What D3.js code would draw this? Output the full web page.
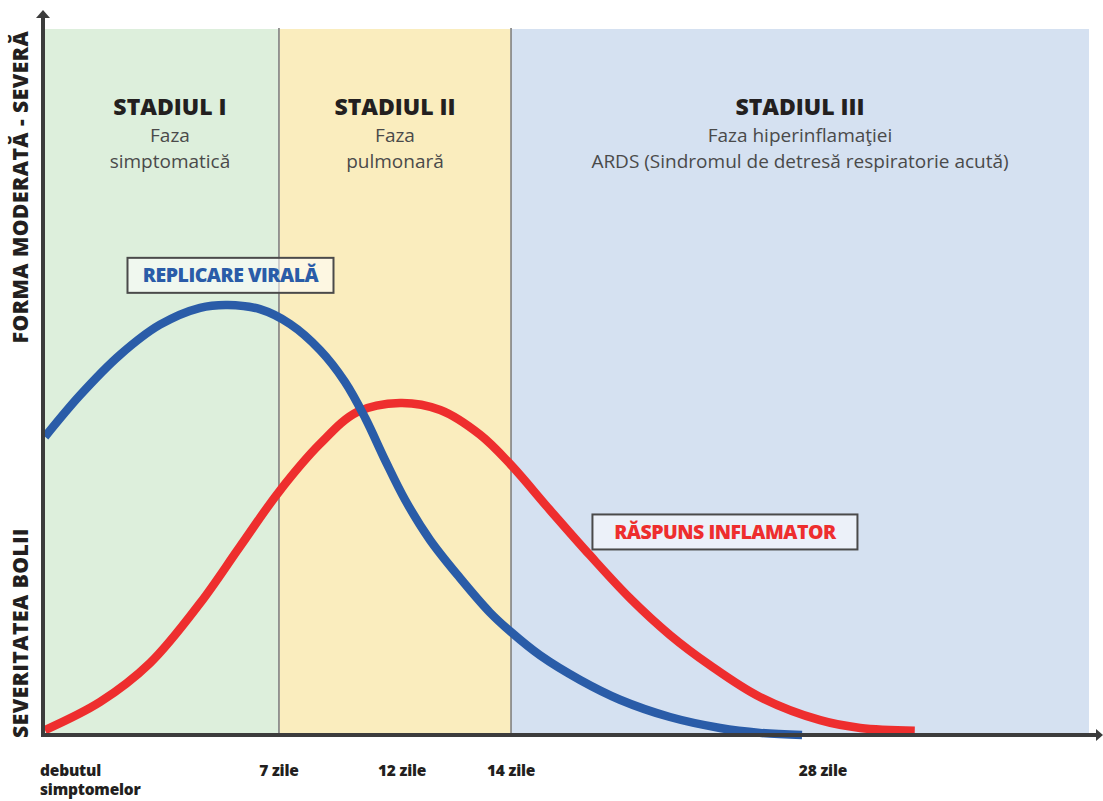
<!DOCTYPE html>
<html>
<head>
<meta charset="utf-8">
<script src="https://cdn.jsdelivr.net/npm/d3@7"></script>
<style>
  html, body { margin: 0; padding: 0; background: #fff; }
  svg { display: block; font-family: "Open Sans", "DejaVu Sans", sans-serif; }
</style>
</head>
<body>
<svg id="chart" width="1103" height="801"></svg>
<script>
// x ticks (days since onset) and their labels
const tickDays = [0, 7, 12, 14, 28];
const tickLabels = [["debutul", "simptomelor"], ["7 zile"], ["12 zile"], ["14 zile"], ["28 zile"]];

// stages
const stageStart = [0, 7, 14];
const stageEnd = [7, 14, 32];
const stageNames = ["STADIUL I", "STADIUL II", "STADIUL III"];
const stageSub = [
    ["Faza", "simptomatică"],
    ["Faza", "pulmonară"],
    ["Faza hiperinflamaţiei", "ARDS (Sindromul de detresă respiratorie acută)"]
];
const stageColors = ["#ddefdc", "#faedbe", "#d5e1f1"];

// viral replication curve (day, severity 0-100)
const viralDays = [0, 1.05, 2.24, 3.44, 4.64, 5.47, 6.43, 7.45, 8.67, 9.68, 10.5, 11.31, 12.06, 12.51, 13.06, 13.61, 14, 15.3, 17.1, 18.89, 21.13, 23.38, 25.17, 27.06];
const viralSev = [42.3, 48.2, 53.9, 58.2, 60.6, 61.0, 60.4, 58.3, 54.6, 50.1, 45.0, 39.0, 33.3, 27.7, 22.3, 17.4, 14.6, 11.3, 7.8, 5.0, 2.55, 1.0, 0.3, 0.0];

// inflammatory response curve
const inflDays = [0, 1.65, 3.14, 4.64, 5.83, 7, 8.67, 10.17, 11.92, 12.7, 13.43, 14, 15.75, 17.54, 19.34, 21.13, 22.93, 25.17, 27.87, 28.56, 29.38];
const inflSev = [0.7, 4.7, 10.2, 18.7, 26.7, 34.5, 41.3, 45.8, 47.1, 46.1, 42.6, 38.3, 31.9, 25.5, 19.4, 14.2, 9.9, 5.4, 2.1, 1.0, 0.6];

const svg = d3.select("#chart");
const plotLeft = 45, plotRight = 1089, plotTop = 30, plotBottom = 735;
const W = plotRight - plotLeft;

// the picture's time axis is not uniform, so a piecewise scale
const x = d3.scaleLinear()
    .domain([0, 7, 12, 14, 28, 32])
    .range([0, 0.2241, 0.342, 0.4464, 0.7452, 1].map(f => plotLeft + f * W));
const y = d3.scaleLinear().domain([0, 100]).range([plotBottom, plotTop]);

// stage bands
svg.append("g").selectAll("rect")
    .data(stageNames)
    .join("rect")
    .attr("x", (d, i) => x(stageStart[i]))
    .attr("y", plotTop - 1)
    .attr("width", (d, i) => x(stageEnd[i]) - x(stageStart[i]))
    .attr("height", plotBottom - plotTop + 1)
    .attr("fill", (d, i) => stageColors[i]);

// dividers
svg.append("g").selectAll("line")
    .data(stageStart.slice(1))
    .join("line")
    .attr("x1", d => x(d)).attr("x2", d => x(d))
    .attr("y1", plotTop - 2).attr("y2", plotBottom)
    .attr("stroke", "#8c8c8c")
    .attr("stroke-width", 1.8);

// stage titles
const gStage = svg.append("g").attr("text-anchor", "middle");
stageNames.forEach((name, i) => {
    let cx = (x(stageStart[i]) + x(stageEnd[i])) / 2;
    if (i === 0) cx += 8;
    gStage.append("text")
        .attr("x", cx).attr("y", 115)
        .attr("font-size", 23).attr("font-weight", 800)
        .attr("fill", "#231f20")
        .text(name);
    stageSub[i].forEach((s, j) => {
        gStage.append("text")
            .attr("x", cx).attr("y", 142 + j * 26)
            .attr("font-size", 19)
            .attr("fill", "#4a4a4a")
            .text(s);
    });
});

// curves
const line = d3.line()
    .x(d => x(d[0]))
    .y(d => y(d[1]))
    .curve(d3.curveCatmullRom.alpha(0.5));

svg.append("path")
    .datum(inflDays.map((d, i) => [d, inflSev[i]]))
    .attr("d", line)
    .attr("fill", "none")
    .attr("stroke", "#ee2e2e")
    .attr("stroke-width", 8.5);

svg.append("path")
    .datum(viralDays.map((d, i) => [d, viralSev[i]]))
    .attr("d", line)
    .attr("fill", "none")
    .attr("stroke", "#2a5ca8")
    .attr("stroke-width", 8.5);

// legend boxes
function labelBox(cx, cy, w, h, txt, color) {
    const g = svg.append("g");
    g.append("rect")
        .attr("x", cx - w / 2).attr("y", cy - h / 2)
        .attr("width", w).attr("height", h)
        .attr("fill", "rgba(255,255,255,0.55)")
        .attr("stroke", "#4a4a4a")
        .attr("stroke-width", 2);
    g.append("text")
        .attr("x", cx).attr("y", cy + 7)
        .attr("text-anchor", "middle")
        .attr("font-size", 19.5).attr("font-weight", 800)
        .attr("letter-spacing", -0.5)
        .attr("fill", color)
        .text(txt);
}
labelBox(x(5.55), y(65.2), 206, 35, "REPLICARE VIRALĂ", "#2a5ca8");
labelBox(x(23.6), y(28.8), 265, 35, "RĂSPUNS INFLAMATOR", "#ee2e2e");

// axes
const axisColor = "#3c3c3c";
svg.append("line")
    .attr("x1", 43).attr("x2", 43)
    .attr("y1", 16).attr("y2", plotBottom + 2)
    .attr("stroke", axisColor).attr("stroke-width", 4);
svg.append("line")
    .attr("x1", 41).attr("x2", 1099)
    .attr("y1", plotBottom).attr("y2", plotBottom)
    .attr("stroke", axisColor).attr("stroke-width", 4);
svg.append("path")
    .attr("d", "M43,10 L50,18 L36,18 Z")
    .attr("fill", axisColor);
svg.append("path")
    .attr("d", `M1103,${plotBottom} L1096,${plotBottom - 6} L1096,${plotBottom + 6} Z`)
    .attr("fill", axisColor);

// x tick labels
const gTicks = svg.append("g");
tickDays.forEach((d, i) => {
    const t = gTicks.append("text")
        .attr("font-size", 15.5).attr("font-weight", 800)
        .attr("letter-spacing", -0.2)
        .attr("fill", "#231f20")
        .attr("text-anchor", i === 0 ? "start" : "middle");
    tickLabels[i].forEach((s, j) => {
        t.append("tspan")
            .attr("x", i === 0 ? x(d) - 5 : x(d))
            .attr("y", 776 + j * 19)
            .text(s);
    });
});

// y axis titles
const yTitles = [["FORMA MODERATĂ  - SEVERĂ", 187], ["SEVERITATEA  BOLII", 633]];
yTitles.forEach(([s, cy]) => {
    svg.append("text")
        .attr("transform", `translate(28,${cy}) rotate(-90)`)
        .attr("text-anchor", "middle")
        .attr("font-size", 21).attr("font-weight", 800)
        .attr("letter-spacing", 0.5)
        .attr("fill", "#231f20")
        .text(s);
});
</script>
</body>
</html>
